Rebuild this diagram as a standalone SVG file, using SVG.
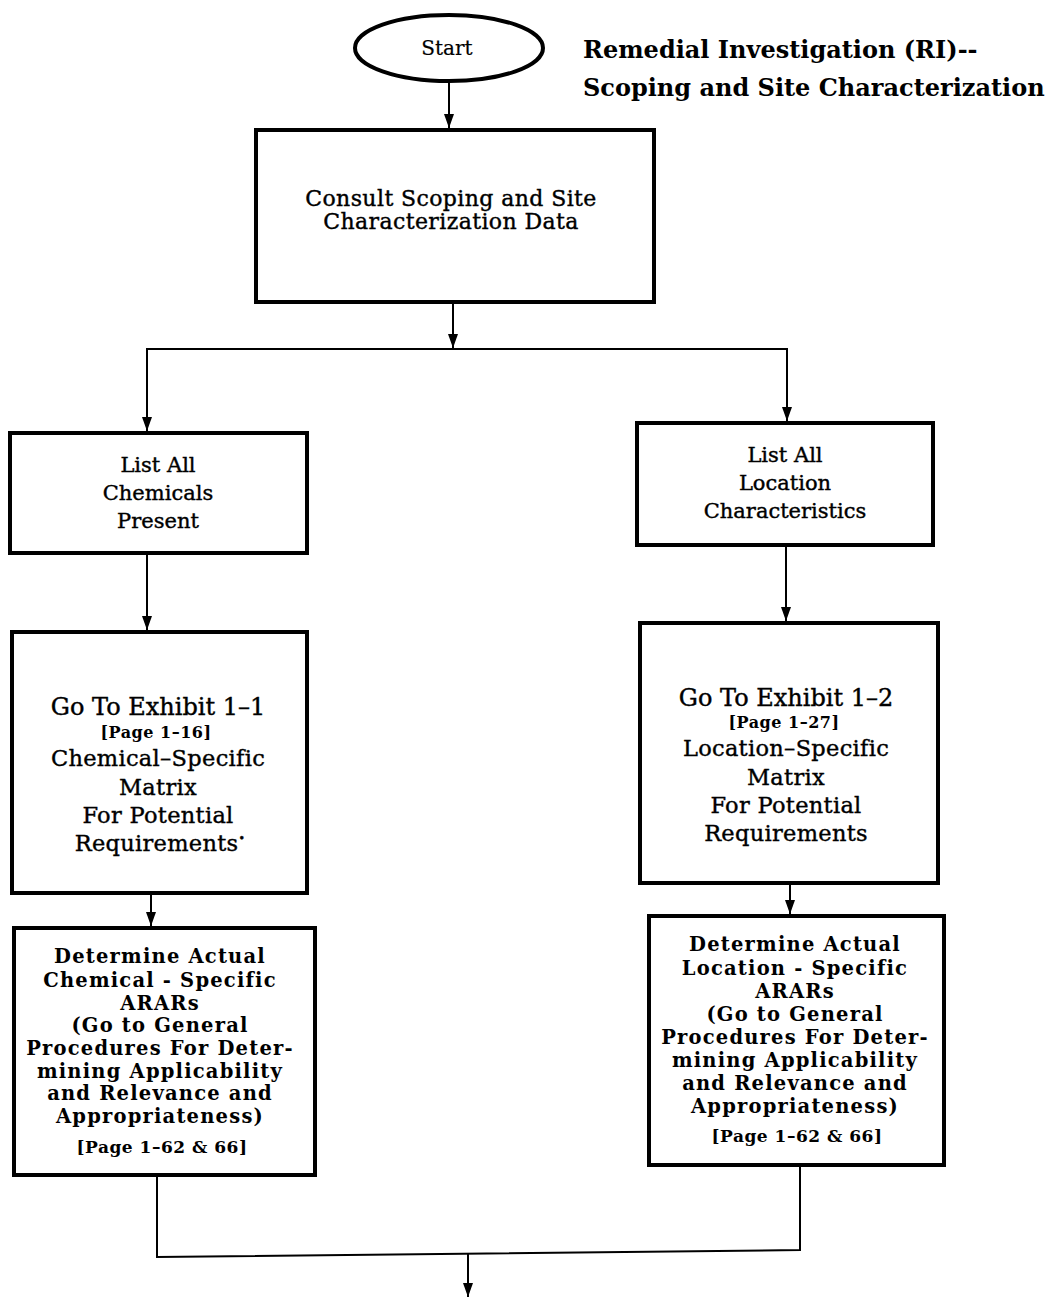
<svg xmlns="http://www.w3.org/2000/svg" width="1056" height="1299" viewBox="0 0 1056 1299">
<defs>
<marker id="arr" markerWidth="14" markerHeight="10" refX="14" refY="5" orient="auto" markerUnits="userSpaceOnUse" viewBox="0 0 14 10">
<path d="M0,0 L14,5 L0,10 Z" fill="#000"/>
</marker>
<style>
.box{fill:#fff;stroke:#000;stroke-width:4}
.ln{fill:none;stroke:#000;stroke-width:2}
.t{font-family:"DejaVu Serif","Liberation Serif",serif;font-size:21px;text-anchor:middle;fill:#000;stroke:#000;stroke-width:0.4}
.ex{font-size:22.5px;letter-spacing:0.3px}
.tb{font-family:"DejaVu Serif","Liberation Serif",serif;font-size:19.5px;font-weight:bold;letter-spacing:1.2px;text-anchor:middle;fill:#000}
.sm{font-family:"DejaVu Serif","Liberation Serif",serif;font-size:16px;font-weight:bold;letter-spacing:0.5px;text-anchor:middle;fill:#000}
.title{font-family:"DejaVu Serif","Liberation Serif",serif;font-size:24px;font-weight:bold;fill:#000}
</style>
</defs>
<rect width="1056" height="1299" fill="#fff"/>
<g id="title">
<text class="title" x="583" y="58">Remedial Investigation (RI)--</text>
<text class="title" x="583" y="96">Scoping and Site Characterization</text>
</g>
<g id="connectors">
<line class="ln" x1="449" y1="82" x2="449" y2="128" marker-end="url(#arr)"/>
<line class="ln" x1="453" y1="303" x2="453" y2="348" marker-end="url(#arr)"/>
<polyline class="ln" points="147,431 147,349 787,349 787,421"/>
<line class="ln" x1="147" y1="410" x2="147" y2="431" marker-end="url(#arr)"/>
<line class="ln" x1="787" y1="400" x2="787" y2="421" marker-end="url(#arr)"/>
<line class="ln" x1="147" y1="555" x2="147" y2="630" marker-end="url(#arr)"/>
<line class="ln" x1="786" y1="547" x2="786" y2="621" marker-end="url(#arr)"/>
<line class="ln" x1="151" y1="895" x2="151" y2="926" marker-end="url(#arr)"/>
<line class="ln" x1="790" y1="885" x2="790" y2="914" marker-end="url(#arr)"/>
<polyline class="ln" points="157,1177 157,1257 800,1250 800,1167"/>
<line class="ln" x1="468" y1="1254" x2="468" y2="1297" marker-end="url(#arr)"/>
</g>
<g id="start">
<ellipse cx="449" cy="48" rx="94" ry="33" fill="#fff" stroke="#000" stroke-width="4"/>
<text class="t" x="447" y="55" style="font-size:20px;stroke-width:0.2">Start</text>
</g>
<g id="consult">
<rect class="box" x="256" y="130" width="398" height="172"/>
<text class="t" x="451" y="206" style="font-size:22px;letter-spacing:0.4px">Consult Scoping and Site</text>
<text class="t" x="451" y="229" style="font-size:22px;letter-spacing:0.4px">Characterization Data</text>
</g>
<g id="list-chem">
<rect class="box" x="10" y="433" width="297" height="120"/>
<text class="t" x="158" y="472">List All</text>
<text class="t" x="158" y="500">Chemicals</text>
<text class="t" x="158" y="528">Present</text>
</g>
<g id="list-loc">
<rect class="box" x="637" y="423" width="296" height="122"/>
<text class="t" x="785" y="462">List All</text>
<text class="t" x="785" y="490">Location</text>
<text class="t" x="785" y="518">Characteristics</text>
</g>
<g id="exhibit-1-1">
<rect class="box" x="12" y="632" width="295" height="261"/>
<text class="t" x="158" y="715" style="font-size:24px">Go To Exhibit 1–1</text>
<text class="sm" x="156" y="738">[Page 1–16]</text>
<text class="t ex" x="158" y="766">Chemical–Specific</text>
<text class="t ex" x="158" y="795">Matrix</text>
<text class="t ex" x="158" y="823">For Potential</text>
<text class="t ex" x="160" y="851">Requirements<tspan dy="-9" style="font-size:11px">•</tspan></text>
</g>
<g id="exhibit-1-2">
<rect class="box" x="640" y="623" width="298" height="260"/>
<text class="t" x="786" y="706" style="font-size:24px">Go To Exhibit 1–2</text>
<text class="sm" x="784" y="728">[Page 1–27]</text>
<text class="t ex" x="786" y="756">Location–Specific</text>
<text class="t ex" x="786" y="785">Matrix</text>
<text class="t ex" x="786" y="813">For Potential</text>
<text class="t ex" x="786" y="841">Requirements</text>
</g>
<g id="arars-chem">
<rect class="box" x="14" y="928" width="301" height="247"/>
<text class="tb" x="160" y="963">Determine Actual</text>
<text class="tb" x="160" y="987">Chemical - Specific</text>
<text class="tb" x="160" y="1010">ARARs</text>
<text class="tb" x="160" y="1032">(Go to General</text>
<text class="tb" x="160" y="1055">Procedures For Deter-</text>
<text class="tb" x="160" y="1078">mining Applicability</text>
<text class="tb" x="160" y="1100">and Relevance and</text>
<text class="tb" x="160" y="1123">Appropriateness)</text>
<text class="sm" x="162" y="1153" style="font-size:17px">[Page 1–62 &amp; 66]</text>
</g>
<g id="arars-loc">
<rect class="box" x="649" y="916" width="295" height="249"/>
<text class="tb" x="795" y="951">Determine Actual</text>
<text class="tb" x="795" y="975">Location - Specific</text>
<text class="tb" x="795" y="998">ARARs</text>
<text class="tb" x="795" y="1021">(Go to General</text>
<text class="tb" x="795" y="1044">Procedures For Deter-</text>
<text class="tb" x="795" y="1067">mining Applicability</text>
<text class="tb" x="795" y="1090">and Relevance and</text>
<text class="tb" x="795" y="1113">Appropriateness)</text>
<text class="sm" x="797" y="1142" style="font-size:17px">[Page 1–62 &amp; 66]</text>
</g>
</svg>
